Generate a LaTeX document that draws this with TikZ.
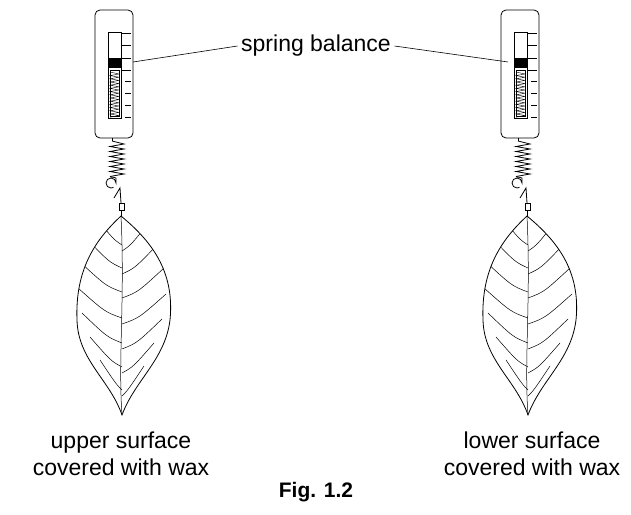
\documentclass[tikz,border=0pt]{standalone}
\usepackage{fontspec}
\setmainfont{Liberation Sans}
\begin{document}
\begin{tikzpicture}[x=1pt,y=-1pt,line width=0.8pt,
  lbl/.style={font=\fontsize{23}{27}\selectfont,align=center},
  vein/.style={line width=0.5pt}]
\useasboundingbox (0,0) rectangle (631,514);
\newcommand{\leafpath}{(121,216) .. controls (150,240) and (175,270) .. (170,320)
   .. controls (165,360) and (135,380) .. (122,415)
   .. controls (110,380) and (78,360) .. (77,320)
   .. controls (75,270) and (95,240) .. (121,216)}
\newcommand{\balance}[1]{%
\begin{scope}[xshift=#1]
 \draw[rounded corners=5pt] (95,10) rectangle (133,138);
 \draw (108,32) rectangle (121,118);
 \fill (108,58) rectangle (121,68);
 \draw[line width=0.4pt] (110,70) rectangle (119,116);
 \draw[line width=0.4pt] (110,72) \foreach \i in {0,...,13}{ -- (119,{74+3.2*\i}) -- (110,{75.6+3.2*\i})};
 \foreach \y in {33,45,58,70} \draw (121,\y) -- (131,\y);
 \foreach \y in {81,93,105,117} \draw (125,\y) -- (131,\y);
 \draw (112,138) -- (112,141);
 \draw (112,141) \foreach \i in {0,...,6}{ -- (124,{144+5*\i}) -- (110,{146.5+5*\i})};
 \draw (110,176.5) -- (116,178) -- (116,183) arc (0:-300:5);
 \draw (114,198) -- (120,188) -- (121,203);
 \draw (119,203) rectangle (124,210);
 \draw (121,210) -- (121,216);
 \draw \leafpath;
 \begin{scope}
  \clip \leafpath;
  \draw[vein] (121,216) .. controls (125,300) and (118,360) .. (122,415);
  \foreach \y/\d in {245/18,268/26,292/32,318/34,343/30,367/22,390/12}{
   \draw[vein] (122,\y) .. controls ({122-\d*0.5},{\y-6}) .. ({122-\d-10},{\y-30});
   \draw[vein] (122,{\y+6}) .. controls ({122+\d*0.5},{\y}) .. ({122+\d+10},{\y-24});
  }
 \end{scope}
\end{scope}}
\balance{0}
\balance{406}
\node[lbl] (sb) at (316,46) {spring balance};
\coordinate (l) at (133,62); \coordinate (r) at (508,62);
\draw[line width=0.6pt] (sb.west) -- (l);
\draw[line width=0.6pt] (sb.east) -- (r);
\node[lbl] (u) at (121,454) {upper surface\\covered with wax};
\node[lbl] (w) at (532,454) {lower surface\\covered with wax};
\node[font=\bfseries\fontsize{21}{24}\selectfont] (f) at (316,492) {Fig. 1.2};
\end{tikzpicture}
\end{document}
